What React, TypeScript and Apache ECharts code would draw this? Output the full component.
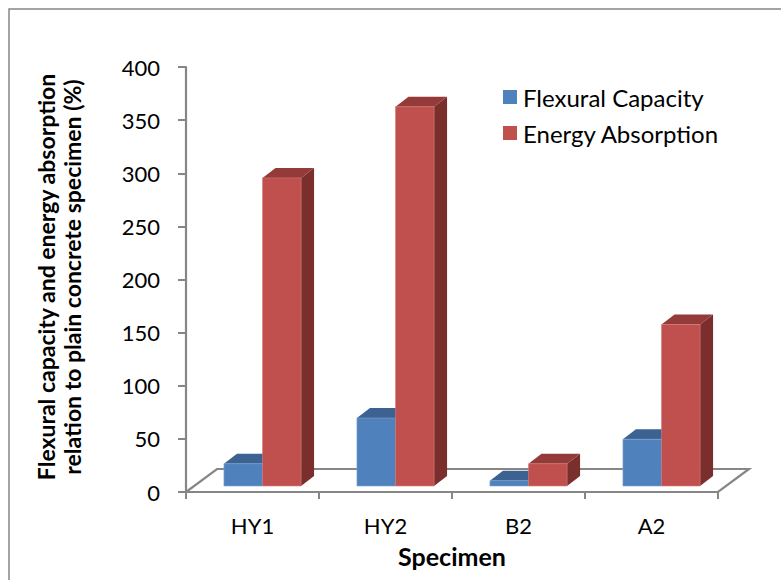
import React, { useEffect, useRef } from "react";
import * as echarts from "echarts";

// Specimens along the horizontal axis
const categories = ["HY1", "HY2", "B2", "A2"];
// Increase relative to plain concrete specimen (%)
const flexuralCapacity = [21, 64, 5, 44];
const energyAbsorption = [290, 357, 21, 152];
// Value axis range and step
const yMin = 0;
const yMax = 400;
const yStep = 50;

const seriesNames = ["Flexural Capacity", "Energy Absorption"];

const FONT = "Lato, 'Open Sans', sans-serif";
const GRID_GRAY = "#868686";

// face colours: front, top, side
const palettes = [
  { front: "#4F81BD", top: "#3B6291", side: "#355884", edge: "#7FA3D3" },
  { front: "#C0504D", top: "#943A38", side: "#7A2F2D", edge: "#D47C79" },
];

// oblique depth of the floor and of each column
const FLOOR_DX = 31;
const FLOOR_DY = 23;
const BAR_DX = 13;
const BAR_DY = 10;
const BAR_SET_BACK = 6; // vertical shift of the columns' front faces behind the floor edge
const BAR_SHIFT_X = 10; // horizontal shift of the column pair from the category centre

function makeBarRenderer(seriesIdx: number) {
  const pal = palettes[seriesIdx];
  return (params: any, api: any) => {
    const cat = api.value(0);
    const v = api.value(1);
    const base = api.coord([cat, 0]);
    const top = api.coord([cat, v]);
    const catW = api.size([1, 0])[0];
    const w = catW * 0.29;
    const cx = base[0] + BAR_SHIFT_X;
    const x0 = seriesIdx === 0 ? cx - w : cx;
    const x1 = x0 + w;
    const yb = base[1] - BAR_SET_BACK;
    const yt = top[1] - BAR_SET_BACK;
    return {
      type: "group",
      children: [
        {
          type: "polygon",
          shape: {
            points: [
              [x1, yt],
              [x1 + BAR_DX, yt - BAR_DY],
              [x1 + BAR_DX, yb - BAR_DY],
              [x1, yb],
            ],
          },
          style: { fill: pal.side },
        },
        {
          type: "polygon",
          shape: {
            points: [
              [x0, yt],
              [x1, yt],
              [x1 + BAR_DX, yt - BAR_DY],
              [x0 + BAR_DX, yt - BAR_DY],
            ],
          },
          style: { fill: pal.top },
        },
        {
          type: "rect",
          shape: { x: x0, y: yt, width: w, height: yb - yt },
          style: { fill: pal.front, stroke: pal.edge, lineWidth: 0.6 },
        },
      ],
    };
  };
}

function renderFloor(params: any, api: any) {
  const cs = params.coordSys;
  const yf = api.coord([0, 0])[1];
  const xl = cs.x;
  const xr = cs.x + cs.width;
  return {
    type: "polygon",
    shape: {
      points: [
        [xl, yf],
        [xr, yf],
        [xr + FLOOR_DX, yf - FLOOR_DY],
        [xl + FLOOR_DX, yf - FLOOR_DY],
      ],
    },
    style: { fill: "#FFFFFF", stroke: GRID_GRAY, lineWidth: 2.2 },
  };
}

export default function App() {
  const ref = useRef<HTMLDivElement>(null);

  useEffect(() => {
    if (!ref.current) return;
    const chart = echarts.init(ref.current, null, { renderer: "svg" });
    const toData = (arr: number[]) => arr.map((v, i) => [i, v]);

    chart.setOption({
      animation: false,
      backgroundColor: "#FFFFFF",
      textStyle: { fontFamily: FONT },
      grid: { left: 186, right: 63, top: 67, bottom: 88, containLabel: false },
      graphic: [
        {
          type: "rect",
          shape: { x: 9, y: 9, width: 900, height: 700 },
          style: { fill: "none", stroke: GRID_GRAY, lineWidth: 1.5 },
          silent: true,
          z: -10,
        },
      ],
      legend: {
        orient: "vertical",
        left: 503,
        top: 85,
        padding: 0,
        itemWidth: 14,
        itemHeight: 14,
        itemGap: 12,
        textStyle: {
          fontFamily: FONT,
          fontSize: 24,
          color: "#000000",
          padding: [0, 0, 0, 1],
        },
        data: seriesNames.map((n) => ({ name: n, icon: "rect" })),
      },
      xAxis: {
        type: "category",
        data: categories,
        boundaryGap: true,
        name: "Specimen",
        nameLocation: "middle",
        nameGap: 51,
        nameTextStyle: {
          fontFamily: FONT,
          fontSize: 25,
          fontWeight: "bold",
          color: "#000000",
        },
        axisLine: { show: true, lineStyle: { color: GRID_GRAY, width: 2.2 } },
        axisTick: { show: true, length: 7, lineStyle: { color: GRID_GRAY, width: 2 } },
        axisLabel: {
          margin: 22,
          fontFamily: FONT,
          fontSize: 22,
          color: "#000000",
        },
        splitLine: { show: false },
      },
      yAxis: {
        type: "value",
        min: yMin,
        max: yMax,
        interval: yStep,
        name: "Flexural capacity and energy absorption\nrelation to plain concrete specimen (%)",
        nameLocation: "middle",
        nameRotate: 90,
        nameGap: 101,
        nameTextStyle: {
          fontFamily: FONT,
          fontSize: 23,
          fontWeight: "bold",
          color: "#000000",
          lineHeight: 26,
          padding: [0, 0, 0, 5],
        },
        axisLine: { show: true, lineStyle: { color: GRID_GRAY, width: 2.2 } },
        axisTick: { show: true, length: 8, lineStyle: { color: GRID_GRAY, width: 2 } },
        axisLabel: {
          margin: 26,
          fontFamily: FONT,
          fontSize: 22,
          color: "#000000",
        },
        splitLine: { show: false },
      },
      series: [
        {
          type: "custom",
          name: "floor",
          renderItem: renderFloor,
          data: [[0, 0]],
          silent: true,
          z: 1,
          legendHoverLink: false,
        },
        {
          type: "custom",
          name: seriesNames[0],
          renderItem: makeBarRenderer(0),
          itemStyle: { color: palettes[0].front },
          data: toData(flexuralCapacity),
          z: 2,
        },
        {
          type: "custom",
          name: seriesNames[1],
          renderItem: makeBarRenderer(1),
          itemStyle: { color: palettes[1].front },
          data: toData(energyAbsorption),
          z: 3,
        },
      ],
    });

    return () => chart.dispose();
  }, []);

  return (
    <div
      ref={ref}
      style={{ position: "fixed", left: 0, top: 0, width: 781, height: 580 }}
    />
  );
}
